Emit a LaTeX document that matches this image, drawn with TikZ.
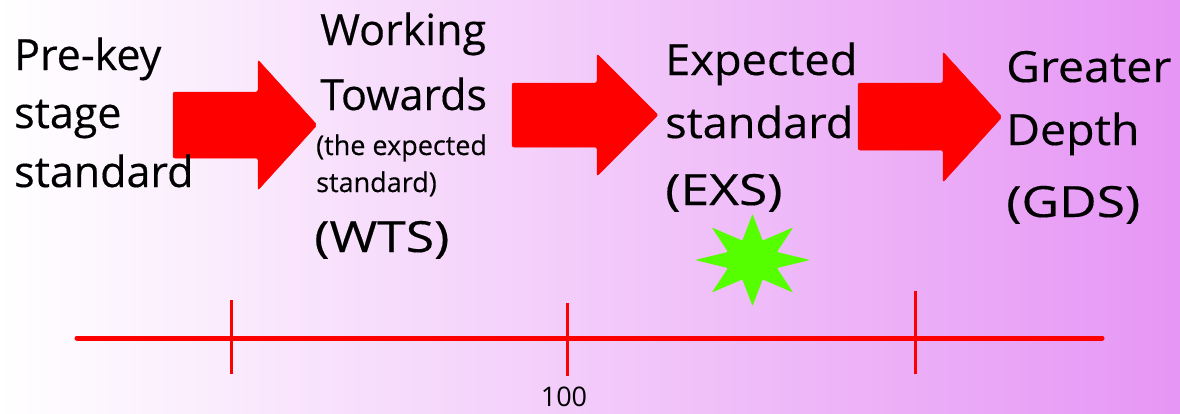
\documentclass[tikz,border=0pt]{standalone}
\usepackage{fontspec}
\setmainfont{Open Sans}
\newfontfamily\comicish{Open Sans}[FakeBold=0.35]
\definecolor{bgright}{RGB}{230,150,245}
\definecolor{arrowred}{RGB}{255,0,0}
\definecolor{stargreen}{RGB}{85,255,0}
\tikzset{
  big/.style={anchor=base west, inner sep=0, font=\comicish\fontsize{43}{50}\selectfont},
  abbr/.style={big, xscale=1.2},
  small/.style={anchor=base west, inner sep=0, font=\comicish\fontsize{27}{30}\selectfont},
  blockarrow/.style={fill=arrowred, draw=arrowred, line width=0.5pt, rounded corners=2pt},
  tick/.style={draw=arrowred, line width=3pt},
}
\begin{document}
\begin{tikzpicture}[x=1pt,y=-1pt]
\useasboundingbox (0,0) rectangle (1180,413);
\shade[left color=white, right color=bgright] (0,0) rectangle (1180,413);

% block arrows
\fill[blockarrow] (173,92) -- (258,92) -- (258,60) -- (317,125) -- (258,190) -- (258,158) -- (173,158) -- cycle;
\fill[blockarrow] (512,83) -- (597,83) -- (597,54) -- (658,115) -- (597,176) -- (597,147) -- (512,147) -- cycle;
\fill[blockarrow] (858,83) -- (943,83) -- (943,52) -- (1002,117) -- (943,182) -- (943,150) -- (858,150) -- cycle;

% texts
\node[big] (pk1) at (14,70) {Pre-key};
\node[big] (pk2) at (14,128) {stage};
\node[big] (pk3) at (14,187) {standard};

\node[big] (wt1) at (320,45) {Working};
\node[big] (wt2) at (320,110) {Towards};
\node[small] (wt3) at (316,155) {(the expected};
\node[small] (wt4) at (316,192) {standard)};
\node[abbr] (wt5) at (314,252) {(WTS)};

\node[big, xscale=1.05] (ex1) at (665,75) {Expected};
\node[big, xscale=1.05] (ex2) at (665,138) {standard};
\node[abbr] (ex3) at (665,205) {(EXS)};

\node[big, xscale=1.08] (gd1) at (1006,82) {Greater};
\node[big, xscale=1.08] (gd2) at (1006,145) {Depth};
\node[abbr] (gd3) at (1006,217) {(GDS)};

% star
\fill[stargreen, rounded corners=1pt] plot[samples at={0,...,15}]
  ({752.5 + (mod(\x,2)==0 ? 57.5 : 26.5)*cos(\x*22.5)},
   {260 + (mod(\x,2)==0 ? 46 : 21)*sin(\x*22.5)}) -- cycle;

% timeline
\coordinate (tl) at (77,338);
\coordinate (tr) at (1102,338);
\draw[arrowred, line width=5pt, line cap=round] (tl) -- (tr);
\coordinate (t1a) at (231,300); \coordinate (t1b) at (231,374);
\coordinate (t2a) at (567,303); \coordinate (t2b) at (567,376);
\coordinate (t3a) at (915,291); \coordinate (t3b) at (915,374);
\draw[tick] (t1a) -- (t1b);
\draw[tick] (t2a) -- (t2b);
\draw[tick] (t3a) -- (t3b);
\node[anchor=base, inner sep=0, font=\fontsize{27}{30}\selectfont] (hundred) at (564,406) {100};
\end{tikzpicture}
\end{document}
